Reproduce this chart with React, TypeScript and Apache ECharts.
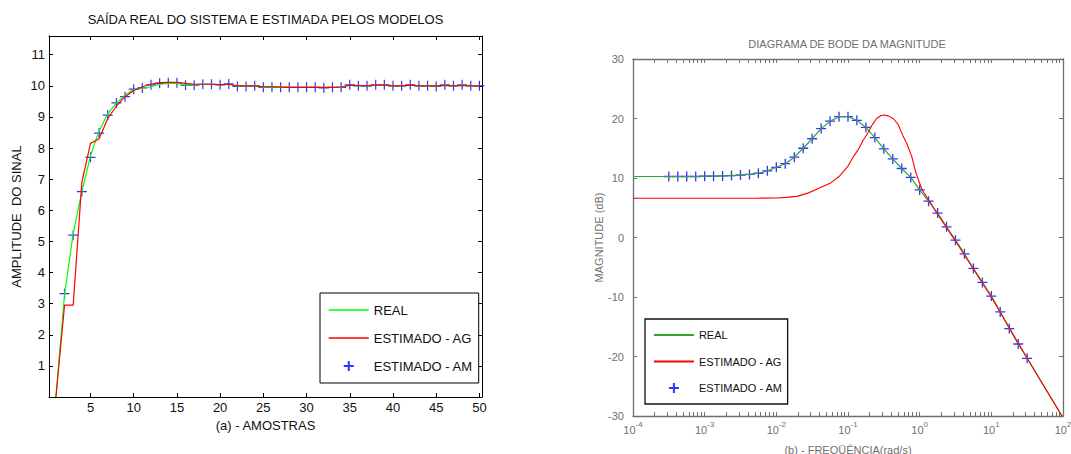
import React, { useEffect, useRef } from "react";
import * as echarts from "echarts";

// ---------- Left chart: (a) samples ----------
const LEFT_TITLE = "SAÍDA REAL DO SISTEMA E ESTIMADA PELOS MODELOS";
const LEFT_XTICKS = [5, 10, 15, 20, 25, 30, 35, 40, 45, 50];
const LEFT_YTICKS = [1, 2, 3, 4, 5, 6, 7, 8, 9, 10, 11];
// samples 1..50
const REAL_OUT = [0, 3.3, 5.25, 6.6, 7.75, 8.55, 9.1, 9.45, 9.7, 9.88, 9.92, 9.97, 10.05, 10.08, 10.08, 10.03, 10.03, 10.05, 10.05, 10.03, 10.05, 9.99, 9.99, 10.0, 9.96, 9.96, 9.95, 9.95, 9.95, 9.95, 9.95, 9.94, 9.95, 9.95, 10.02, 10.0, 10.0, 10.02, 10.02, 10.0, 10.0, 10.02, 10.0, 10.0, 9.99, 10.02, 10.0, 10.02, 10.0, 10.0];
const AG_OUT = [0, 2.95, 2.95, 6.9, 8.15, 8.3, 8.95, 9.35, 9.65, 9.85, 9.97, 10.05, 10.1, 10.11, 10.11, 10.08, 10.05, 10.05, 10.05, 10.04, 10.05, 10.0, 10.0, 10.0, 9.97, 9.97, 9.96, 9.95, 9.95, 9.95, 9.95, 9.95, 9.95, 9.96, 10.02, 10.01, 10.0, 10.02, 10.02, 10.0, 10.0, 10.02, 10.0, 10.0, 10.0, 10.01, 10.0, 10.01, 10.0, 9.99];
// samples 2..50
const AM_OUT = [3.32, 5.2, 6.6, 7.7, 8.48, 9.06, 9.45, 9.65, 9.89, 9.93, 10.03, 10.08, 10.1, 10.1, 10.02, 10.02, 10.05, 10.05, 10.03, 10.06, 9.98, 9.98, 10.0, 9.95, 9.95, 9.95, 9.95, 9.95, 9.95, 9.95, 9.93, 9.95, 9.95, 10.03, 10.0, 10.0, 10.03, 10.03, 10.0, 10.0, 10.03, 10.0, 10.0, 9.98, 10.03, 10.0, 10.03, 10.0, 10.0];

// ---------- Right chart: (b) Bode magnitude ----------
const RIGHT_TITLE = "DIAGRAMA DE BODE DA MAGNITUDE";
const DECADE_EXPONENTS = [-4, -3, -2, -1, 0, 1, 2];
const REAL_FREQ = [0.0001, 0.000316, 0.000422, 0.000562, 0.00075, 0.001, 0.00133, 0.00178, 0.00237, 0.00316, 0.00422, 0.00562, 0.0075, 0.01, 0.0133, 0.0178, 0.0237, 0.0316, 0.0422, 0.0562, 0.075, 0.1, 0.133, 0.178, 0.237, 0.316, 0.422, 0.562, 0.75, 1.0, 1.33, 1.78, 2.37, 3.16, 4.22, 5.62, 7.5, 10, 13.3, 17.8, 23.7, 31.6, 100];
const REAL_DB = [10.25, 10.25, 10.25, 10.25, 10.25, 10.3, 10.3, 10.35, 10.4, 10.5, 10.6, 10.8, 11.2, 11.8, 12.4, 13.5, 15.0, 16.6, 18.3, 19.55, 20.3, 20.3, 19.7, 18.5, 16.8, 14.9, 13.2, 11.6, 10.1, 8.0, 6.1, 4.1, 1.8, -0.45, -2.75, -5.2, -7.55, -9.85, -12.5, -15.3, -17.9, -20.3, -30.3];
const AG_FREQ = [0.0001, 0.005, 0.01, 0.0141, 0.02, 0.0282, 0.0398, 0.0562, 0.0759, 0.1, 0.1175, 0.1413, 0.162, 0.1905, 0.2138, 0.2512, 0.2884, 0.3236, 0.3715, 0.4266, 0.5012, 0.5888, 0.6607, 0.7762, 0.8913, 1.0715, 1.778, 3.162, 10, 31.62, 100];
const AG_DB = [6.6, 6.6, 6.65, 6.75, 6.95, 7.5, 8.3, 9.1, 10.3, 12.0, 13.5, 14.9, 16.3, 17.6, 18.8, 20.0, 20.5, 20.6, 20.4, 20.0, 19.0, 17.0, 15.8, 13.6, 10.8, 8.1, 3.9, -0.6, -10.0, -20.3, -30.3];
const AM_FREQ = [0.000316, 0.000422, 0.000562, 0.00075, 0.001, 0.00133, 0.00178, 0.00237, 0.00316, 0.00422, 0.00562, 0.0075, 0.01, 0.0133, 0.0178, 0.0237, 0.0316, 0.0422, 0.0562, 0.075, 0.1, 0.133, 0.178, 0.237, 0.316, 0.422, 0.562, 0.75, 1.0, 1.33, 1.78, 2.37, 3.16, 4.22, 5.62, 7.5, 10, 13.3, 17.8, 23.7, 31.6];
const AM_DB = [10.25, 10.25, 10.25, 10.25, 10.3, 10.3, 10.35, 10.4, 10.5, 10.6, 10.8, 11.2, 11.8, 12.4, 13.5, 15.0, 16.6, 18.3, 19.55, 20.3, 20.3, 19.7, 18.5, 16.8, 14.9, 13.2, 11.6, 10.1, 8.0, 6.1, 4.1, 1.8, -0.45, -2.75, -5.2, -7.55, -9.85, -12.5, -15.3, -17.9, -20.3];

const LEGEND_NAMES = ["REAL", "ESTIMADO - AG", "ESTIMADO - AM"];

const FONT = "'Liberation Sans', Arial, sans-serif";
const PLUS = "path://M0,5L10,5M5,0L5,10";
const GRAY = "#6f6f6f";
const HIDDEN = { color: "rgba(0,0,0,0)", borderColor: "rgba(0,0,0,0)", borderWidth: 0 };

export default function App() {
  const ref = useRef<HTMLDivElement>(null);
  useEffect(() => {
    const chart = echarts.init(ref.current!, null, { renderer: "svg" });

    const logTicks: number[] = [];
    for (let n = -4; n < 2; n++) {
      for (let k = 1; k <= 9; k++) logTicks.push(n + Math.log10(k));
    }
    logTicks.push(2);

    const lx = (f: number) => Math.log10(f);

    const leftAxisCommon = {
      gridIndex: 0,
      type: "value" as const,
      axisLine: { show: true, onZero: false, lineStyle: { color: "#000", width: 1 } },
      splitLine: { show: false },
    };
    const rightAxisCommon = {
      gridIndex: 1,
      type: "value" as const,
      axisLine: { show: true, onZero: false, lineStyle: { color: GRAY, width: 1.3 } },
      splitLine: { show: false },
    };

    const option: any = {
      animation: false,
      backgroundColor: "#fff",
      textStyle: { fontFamily: FONT },
      title: [
        {
          text: LEFT_TITLE,
          left: 265.5,
          top: 13,
          textAlign: "center",
          padding: 0,
          textStyle: { fontFamily: FONT, fontSize: 13, fontWeight: "normal", color: "#111" },
        },
        {
          text: RIGHT_TITLE,
          left: 847,
          top: 38,
          textAlign: "center",
          padding: 0,
          textStyle: { fontFamily: FONT, fontSize: 11, fontWeight: "normal", color: GRAY },
        },
      ],
      grid: [
        { left: 49, top: 36, width: 433, height: 361, outerBoundsMode: "none", containLabel: false },
        { left: 633, top: 59, width: 430, height: 357, outerBoundsMode: "none", containLabel: false },
      ],
      xAxis: [
        {
          ...leftAxisCommon,
          position: "bottom",
          min: 0.2,
          max: 50.3,
          name: "(a) - AMOSTRAS",
          nameLocation: "middle",
          nameGap: 22,
          nameTextStyle: { fontFamily: FONT, fontSize: 13, color: "#111" },
          axisTick: { show: true, inside: true, length: 4, customValues: LEFT_XTICKS, lineStyle: { color: "#000" } },
          axisLabel: { show: true, customValues: LEFT_XTICKS, margin: 4, fontFamily: FONT, fontSize: 13, color: "#111" },
        },
        {
          ...leftAxisCommon,
          position: "top",
          min: 0.2,
          max: 50.3,
          axisTick: { show: true, inside: true, length: 4, customValues: LEFT_XTICKS, lineStyle: { color: "#000" } },
          axisLabel: { show: false },
        },
        {
          ...rightAxisCommon,
          position: "bottom",
          min: -4,
          max: 2,
          name: "(b) - FREQÜÊNCIA(rad/s)",
          nameLocation: "middle",
          nameGap: 28,
          nameTextStyle: { fontFamily: FONT, fontSize: 11, color: GRAY },
          axisTick: { show: true, inside: true, length: 4, customValues: logTicks, lineStyle: { color: GRAY } },
          axisLabel: {
            show: true,
            customValues: DECADE_EXPONENTS,
            margin: 7,
            formatter: (v: number) => `{b|10}{e|${v}}`,
            rich: {
              b: { fontFamily: FONT, fontSize: 11, lineHeight: 12, color: GRAY, verticalAlign: "bottom" },
              e: { fontFamily: FONT, fontSize: 8, lineHeight: 8, color: GRAY, verticalAlign: "bottom", padding: [0, 0, 7, 0] },
            },
          },
        },
        {
          ...rightAxisCommon,
          position: "top",
          min: -4,
          max: 2,
          axisTick: { show: true, inside: true, length: 4, customValues: logTicks, lineStyle: { color: GRAY } },
          axisLabel: { show: false },
        },
      ],
      yAxis: [
        {
          ...leftAxisCommon,
          position: "left",
          min: 0,
          max: 11.6,
          name: "AMPLITUDE  DO SINAL",
          nameLocation: "middle",
          nameGap: 26,
          nameTextStyle: { fontFamily: FONT, fontSize: 13, color: "#111" },
          axisTick: { show: true, inside: true, length: 4, customValues: LEFT_YTICKS, lineStyle: { color: "#000" } },
          axisLabel: { show: true, customValues: LEFT_YTICKS, margin: 4, fontFamily: FONT, fontSize: 13, color: "#111" },
        },
        {
          ...leftAxisCommon,
          position: "right",
          min: 0,
          max: 11.6,
          axisTick: { show: true, inside: true, length: 4, customValues: LEFT_YTICKS, lineStyle: { color: "#000" } },
          axisLabel: { show: false },
        },
        {
          ...rightAxisCommon,
          position: "left",
          min: -30,
          max: 30,
          interval: 10,
          name: "MAGNITUDE (dB)",
          nameLocation: "middle",
          nameGap: 28,
          nameTextStyle: { fontFamily: FONT, fontSize: 11, color: GRAY },
          axisTick: { show: true, inside: true, length: 4, lineStyle: { color: GRAY } },
          axisLabel: { show: true, margin: 9, fontFamily: FONT, fontSize: 11, color: GRAY },
        },
        {
          ...rightAxisCommon,
          position: "right",
          min: -30,
          max: 30,
          interval: 10,
          axisTick: { show: true, inside: true, length: 4, lineStyle: { color: GRAY } },
          axisLabel: { show: false },
        },
      ],
      legend: [
        {
          orient: "vertical",
          left: 320,
          top: 293,
          padding: [10, 6, 10, 8],
          itemWidth: 40,
          itemHeight: 10,
          itemGap: 14,
          borderColor: "#000",
          borderWidth: 1,
          backgroundColor: "#fff",
          selectedMode: false,
          lineStyle: { width: 1.5 },
          data: [
            { name: LEGEND_NAMES[0], itemStyle: HIDDEN },
            { name: LEGEND_NAMES[1], itemStyle: HIDDEN },
            { name: LEGEND_NAMES[2] },
          ],
          textStyle: { fontFamily: FONT, fontSize: 13, lineHeight: 14, color: "#111" },
        },
        {
          orient: "vertical",
          left: 645,
          top: 319,
          padding: [10, 5, 10, 8],
          itemWidth: 40,
          itemHeight: 10,
          itemGap: 14.5,
          borderColor: "#111",
          borderWidth: 1.3,
          backgroundColor: "#fff",
          selectedMode: false,
          lineStyle: { width: 1.8 },
          data: [
            { name: LEGEND_NAMES[0] + " ", itemStyle: HIDDEN },
            { name: LEGEND_NAMES[1] + " ", itemStyle: HIDDEN },
            { name: LEGEND_NAMES[2] + " " },
          ],
          formatter: (n: string) => n.trim(),
          textStyle: { fontFamily: FONT, fontSize: 11, lineHeight: 12, color: "#111" },
        },
      ],
      series: [
        {
          name: "REAL",
          type: "line",
          xAxisIndex: 0,
          yAxisIndex: 0,
          symbol: "none",
          silent: true,
          color: "#00ff00",
          lineStyle: { color: "#00ff00", width: 1.2 },
          data: REAL_OUT.map((v, i) => [i + 1, v]),
        },
        {
          name: "ESTIMADO - AG",
          type: "line",
          xAxisIndex: 0,
          yAxisIndex: 0,
          symbol: "none",
          silent: true,
          color: "#ff0000",
          lineStyle: { color: "#ff0000", width: 1.2 },
          data: AG_OUT.map((v, i) => [i + 1, v]),
        },
        {
          name: "ESTIMADO - AM",
          type: "scatter",
          xAxisIndex: 0,
          yAxisIndex: 0,
          symbol: PLUS,
          symbolSize: 10,
          silent: true,
          itemStyle: { color: "rgba(0,0,0,0)", borderColor: "#0000ff", borderWidth: 1.2 },
          data: AM_OUT.map((v, i) => [i + 2, v]),
        },
        {
          name: "REAL ",
          type: "line",
          xAxisIndex: 2,
          yAxisIndex: 2,
          symbol: "none",
          silent: true,
          color: "#2ea82e",
          lineStyle: { color: "#2ea82e", width: 1.2 },
          data: REAL_FREQ.map((f, i) => [lx(f), REAL_DB[i]]),
        },
        {
          name: "ESTIMADO - AG ",
          type: "line",
          xAxisIndex: 2,
          yAxisIndex: 2,
          symbol: "none",
          silent: true,
          color: "#ff0000",
          lineStyle: { color: "#ff0000", width: 1.1 },
          data: AG_FREQ.map((f, i) => [lx(f), AG_DB[i]]),
        },
        {
          name: "ESTIMADO - AM ",
          type: "scatter",
          xAxisIndex: 2,
          yAxisIndex: 2,
          symbol: PLUS,
          symbolSize: 10,
          silent: true,
          itemStyle: { color: "rgba(0,0,0,0)", borderColor: "#0000ff", borderWidth: 1.3 },
          data: AM_FREQ.map((f, i) => [lx(f), AM_DB[i]]),
        },
      ],
    };

    chart.setOption(option);
    return () => chart.dispose();
  }, []);

  return (
    <div
      ref={ref}
      style={{ position: "fixed", left: 0, top: 0, width: 1071, height: 454, background: "#fff" }}
    />
  );
}
